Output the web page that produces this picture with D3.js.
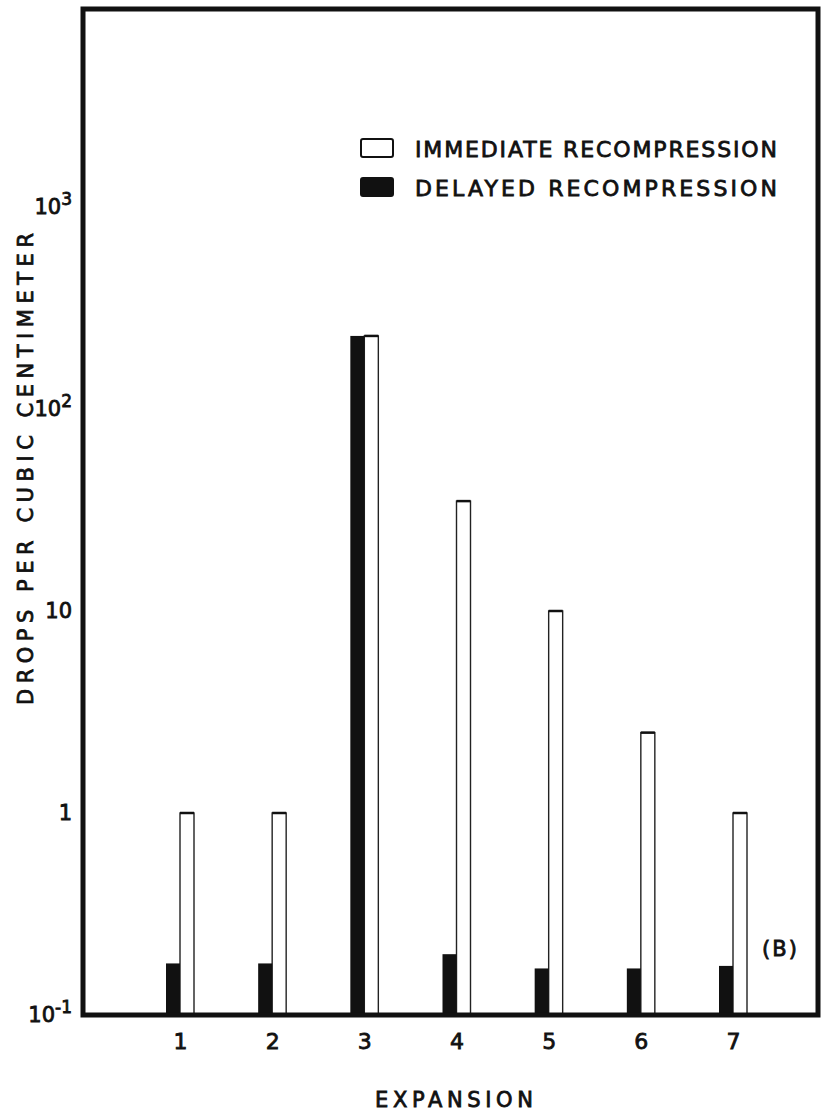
<!DOCTYPE html>
<html>
<head>
<meta charset="utf-8">
<script src="https://cdn.jsdelivr.net/npm/d3@7"></script>
<style>
  html, body { margin: 0; padding: 0; background: #fff; }
  svg { display: block; }
  text { font-family: "DejaVu Sans", sans-serif; fill: #111; }
</style>
</head>
<body>
<script>
// ---- data ----
const categories = ["1", "2", "3", "4", "5", "6", "7"];
const delayedValues = [0.18, 0.18, 230, 0.20, 0.17, 0.17, 0.175];
const immediateValues = [1.0, 1.0, 230, 35, 10, 2.5, 1.0];
const yTickValues = [0.1, 1, 10, 100, 1000];
const yTickLabels = [["10", "-1"], ["1", ""], ["10", ""], ["10", "2"], ["10", "3"]];
const seriesNames = ["IMMEDIATE RECOMPRESSION", "DELAYED RECOMPRESSION"];
const yTitle = "DROPS PER CUBIC CENTIMETER";
const xTitle = "EXPANSION";
const panelLabel = "(B)";

// ---- layout ----
const W = 824, H = 1116;
const frame = { left: 83, right: 818, top: 9 };
const barW = 14;
const textStroke = 0.8;

const svg = d3.select("body").append("svg").attr("width", W).attr("height", H);

const y = d3.scaleLog().domain([0.1, 10000]).range([1015, 5]);
const x = d3.scalePoint().domain(categories).range([180, 733]);
const sub = d3.scaleBand().domain(["delayed", "immediate"]).range([-barW, barW]);

const rows = categories.map((c, i) => ({ c, delayed: delayedValues[i], immediate: immediateValues[i] }));

// bars: immediate (open)
const gImm = svg.append("g");
gImm.selectAll("rect").data(rows).join("rect")
  .attr("x", d => x(d.c) + sub("immediate"))
  .attr("width", sub.bandwidth())
  .attr("y", d => y(d.immediate))
  .attr("height", d => y(0.1) - y(d.immediate))
  .attr("fill", "#fff").attr("stroke", "#222").attr("stroke-width", 1.4);
gImm.selectAll("line").data(rows).join("line")
  .attr("x1", d => x(d.c) + sub("immediate"))
  .attr("x2", d => x(d.c) + sub("immediate") + sub.bandwidth())
  .attr("y1", d => y(d.immediate)).attr("y2", d => y(d.immediate))
  .attr("stroke", "#111").attr("stroke-width", 2.5);

// bars: delayed (filled)
svg.append("g").selectAll("rect").data(rows).join("rect")
  .attr("x", d => x(d.c) + sub("delayed"))
  .attr("width", sub.bandwidth())
  .attr("y", d => y(d.delayed))
  .attr("height", d => y(0.1) - y(d.delayed))
  .attr("fill", "#111");

// frame
svg.append("rect")
  .attr("x", frame.left).attr("y", frame.top)
  .attr("width", frame.right - frame.left)
  .attr("height", y(0.1) - frame.top)
  .attr("fill", "none").attr("stroke", "#111").attr("stroke-width", 5);

// x axis labels
const xAxis = svg.append("g")
  .attr("transform", `translate(0,${y(0.1)})`)
  .call(d3.axisBottom(x).tickSize(0).tickPadding(18));
xAxis.select(".domain").remove();
xAxis.selectAll("text")
  .attr("font-size", 22).attr("font-family", "DejaVu Sans").attr("fill", "#111")
  .attr("stroke", "#111").attr("stroke-width", textStroke);

// y labels
const yl = svg.append("g").selectAll("text").data(yTickValues).join("text")
  .attr("x", 72).attr("y", d => y(d)).attr("dy", "0.33em")
  .attr("text-anchor", "end").attr("font-size", 21)
  .attr("stroke", "#111").attr("stroke-width", textStroke);
yl.each(function(d, i) {
  const t = d3.select(this);
  const [base, sup] = yTickLabels[i];
  t.append("tspan").text(base);
  if (sup) t.append("tspan").attr("dy", "-0.5em").attr("font-size", 17).text(sup);
});

// y title
svg.append("text")
  .attr("transform", `translate(33,469) rotate(-90)`)
  .attr("text-anchor", "middle")
  .attr("font-size", 21)
  .attr("textLength", 472).attr("lengthAdjust", "spacing")
  .attr("stroke", "#111").attr("stroke-width", textStroke)
  .text(yTitle);

// x title
svg.append("text")
  .attr("x", 375).attr("y", 1107)
  .attr("font-size", 21)
  .attr("textLength", 158).attr("lengthAdjust", "spacing")
  .attr("stroke", "#111").attr("stroke-width", textStroke)
  .text(xTitle);

// legend
const legend = svg.append("g");
const legY = [148, 187];
legend.selectAll("rect").data(seriesNames).join("rect")
  .attr("x", 361).attr("y", (d, i) => legY[i] - 9)
  .attr("width", 32).attr("height", 18).attr("rx", 2)
  .attr("fill", (d, i) => i === 0 ? "#fff" : "#111")
  .attr("stroke", "#111").attr("stroke-width", 2);
legend.selectAll("text").data(seriesNames).join("text")
  .attr("x", 415).attr("y", (d, i) => legY[i] + 9)
  .attr("font-size", 22)
  .attr("textLength", 362).attr("lengthAdjust", "spacing")
  .attr("stroke", "#111").attr("stroke-width", textStroke)
  .text(d => d);

// panel label
svg.append("text")
  .attr("x", 762).attr("y", 956)
  .attr("font-size", 21)
  .attr("textLength", 35).attr("lengthAdjust", "spacing")
  .attr("stroke", "#111").attr("stroke-width", textStroke)
  .text(panelLabel);
</script>
</body>
</html>
